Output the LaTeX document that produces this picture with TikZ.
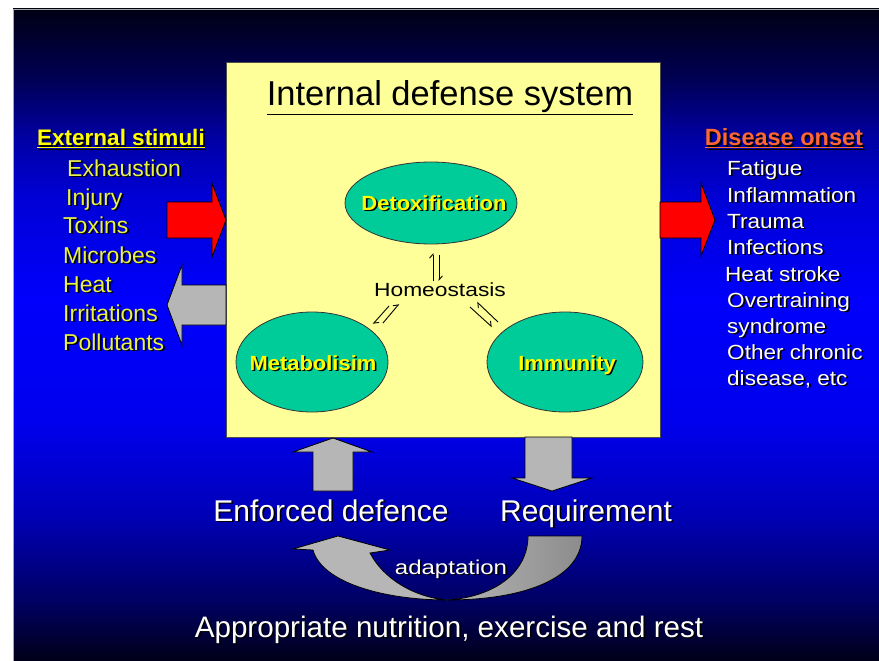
\documentclass[tikz,border=0pt]{standalone}
\usepackage{fontspec}
\setmainfont{Liberation Sans}
\newfontfamily\wf[FakeStretch=1.2]{Liberation Sans}
\newfontfamily\mf[FakeStretch=1.1]{Liberation Sans}
\newfontfamily\ellbf[FakeStretch=1.07]{Liberation Sans Bold}
\usetikzlibrary{arrows.meta,shapes.geometric}
\definecolor{boxyellow}{RGB}{255,255,153}
\definecolor{ellteal}{RGB}{0,204,153}
\definecolor{itemyellow}{RGB}{232,242,70}
\definecolor{hdryellow}{RGB}{255,255,0}
\definecolor{onset}{RGB}{255,102,51}
\definecolor{arrgray}{RGB}{182,182,182}
\definecolor{arrgrayd}{RGB}{140,140,140}
\definecolor{arrred}{RGB}{255,0,0}
\definecolor{bgA}{RGB}{0,0,24}
\definecolor{bgB}{RGB}{0,0,100}
\definecolor{bgC}{RGB}{0,0,185}
\definecolor{bgD}{RGB}{0,0,238}
\definecolor{bgE}{RGB}{0,0,252}
\definecolor{bgF}{RGB}{0,0,215}
\definecolor{bgG}{RGB}{0,0,165}
\definecolor{bgH}{RGB}{0,0,85}
\definecolor{bgI}{RGB}{0,0,20}
\pgfdeclareverticalshading{slidebg}{100bp}{color(0bp)=(bgA); color(25bp)=(bgA); color(29.7bp)=(bgB); color(36.4bp)=(bgC); color(43.5bp)=(bgD); color(52.7bp)=(bgE); color(60.4bp)=(bgF); color(65bp)=(bgG); color(69.6bp)=(bgH); color(75bp)=(bgI); color(100bp)=(bgI)}
\newcommand\shtxt[4]{%
  \node[#2, text=black, xshift=1.6pt, yshift=-1.6pt] at #3 {#4};
  \node[#2] (#1) at #3 {#4};}
\tikzset{
  txt/.style={inner sep=0pt},
  blockarrow/.style={draw=black, line width=0.8pt, line join=miter},
  ell/.style={ellipse, draw=black!80, line width=0.8pt, fill=ellteal, inner sep=0pt},
  harp/.style={line width=0.9pt, -{Straight Barb[harpoon,length=4pt,width=7pt]}},
  fleft/.style={txt, anchor=base west, text=itemyellow, font=\fontsize{23}{27}\selectfont},
  fright/.style={txt, anchor=base west, text=white, font=\mf\fontsize{20.5}{24}\selectfont},
  elltxt/.style={txt, anchor=base, text=hdryellow, font=\ellbf\fontsize{20.5}{24}\selectfont},
  bigtxt/.style={txt, anchor=base, text=white, font=\fontsize{30}{36}\selectfont}
}
\begin{document}
\begin{tikzpicture}[x=1pt,y=-1pt]
\useasboundingbox (0,0) rectangle (879,661);
\fill[white] (0,0) rectangle (879,661);
\shade[shading=slidebg] (13,9) rectangle (879,661);
\draw[gray!70, line width=0.8pt] (13,661) -- (13,9) -- (879,9);

% central box
\node[draw=black!70, line width=0.8pt, fill=boxyellow, minimum width=434pt, minimum height=375pt, inner sep=0pt, anchor=north west] (box) at (226,62) {};
\node[txt, anchor=base, font=\fontsize{34.5}{41}\selectfont] (title) at (450,106) {\underline{Internal defense system}};

% ellipses
\node[ell, minimum width=172pt, minimum height=82pt] (det) at (431,203) {};
\node[ell, minimum width=152pt, minimum height=100pt] (met) at (312,362) {};
\node[ell, minimum width=156pt, minimum height=100pt] (imm) at (565,362) {};
\shtxt{detl}{elltxt}{(434,210)}{Detoxification}
\shtxt{metl}{elltxt}{(313,370)}{Metabolisim}
\shtxt{imml}{elltxt}{(567,370)}{Immunity}

\node[txt, anchor=base, font=\wf\fontsize{19}{23}\selectfont] (homeo) at (440,296) {Homeostasis};
\draw[harp] (433,281) -- (433,253);
\draw[harp] (439,255) -- (439,281);
\draw[harp] (389,306) -- (373,324);
\draw[harp] (383,323) -- (399,304);
\draw[harp] (498,322) -- (477,302);
\draw[harp] (470,307) -- (492,327);

% side block arrows
\draw[blockarrow, fill=arrred] (167,202) -- (212,202) -- (212,183) -- (226,220) -- (212,257) -- (212,238) -- (167,238) -- cycle;
\draw[blockarrow, fill=arrred] (660,202) -- (701,202) -- (701,183) -- (715,220) -- (701,256) -- (701,238) -- (660,238) -- cycle;
\draw[blockarrow, fill=arrgray] (226,285) -- (182,285) -- (182,265) -- (167,305) -- (182,345) -- (182,325) -- (226,325) -- cycle;

% bottom block arrows
\draw[blockarrow, fill=arrgray] (313,491) -- (313,452) -- (293,452) -- (333,438) -- (372,452) -- (353,452) -- (353,491) -- cycle;
\draw[blockarrow, fill=arrgray] (525,437) -- (572,437) -- (572,478) -- (592,478) -- (552,491) -- (512,478) -- (525,478) -- cycle;

% adaptation curved arrow
\draw[blockarrow, fill=arrgray] (447,600) .. controls (385,600) and (322,583) .. (313,550) -- (293,549) -- (338,536) -- (390,550) -- (370,553) .. controls (383,578) and (413,597) .. (447,600) -- cycle;
\draw[blockarrow, left color=arrgray, right color=arrgrayd] (447,600) .. controls (525,600) and (582,578) .. (582,536) -- (528,536) .. controls (528,572) and (495,597) .. (447,600) -- cycle;

% left list
\shtxt{ext}{txt, anchor=base, text=hdryellow, font=\bfseries\fontsize{22.5}{27}\selectfont}{(121,146)}{\underline{External stimuli}}
\shtxt{l1}{fleft}{(67,176)}{Exhaustion}
\shtxt{l2}{fleft}{(66,205)}{Injury}
\shtxt{l3}{fleft}{(63,233)}{Toxins}
\shtxt{l4}{fleft}{(63,263)}{Microbes}
\shtxt{l5}{fleft}{(63,292)}{Heat}
\shtxt{l6}{fleft}{(63,321)}{Irritations}
\shtxt{l7}{fleft}{(63,350)}{Pollutants}

% right list
\shtxt{dis}{txt, anchor=base, text=onset, font=\bfseries\fontsize{23.5}{28}\selectfont}{(784,146)}{\underline{Disease onset}}
\shtxt{r1}{fright}{(727,175)}{Fatigue}
\shtxt{r2}{fright}{(727,202)}{Inflammation}
\shtxt{r3}{fright}{(727,228)}{Trauma}
\shtxt{r4}{fright}{(727,254)}{Infections}
\shtxt{r5}{fright}{(725,281)}{Heat stroke}
\shtxt{r6}{fright}{(727,307)}{Overtraining}
\shtxt{r7}{fright}{(727,333)}{syndrome}
\shtxt{r8}{fright}{(727,359)}{Other chronic}
\shtxt{r9}{fright}{(727,385)}{disease, etc}

% bottom texts
\shtxt{enf}{bigtxt}{(331,521)}{Enforced defence}
\shtxt{req}{bigtxt}{(586,521)}{Requirement}
\shtxt{adp}{txt, anchor=base, text=white, font=\wf\fontsize{20}{24}\selectfont}{(451,574)}{adaptation}
\shtxt{app}{txt, anchor=base, text=white, font=\fontsize{29.6}{35}\selectfont}{(449,637)}{Appropriate nutrition, exercise and rest}
\end{tikzpicture}
\end{document}
